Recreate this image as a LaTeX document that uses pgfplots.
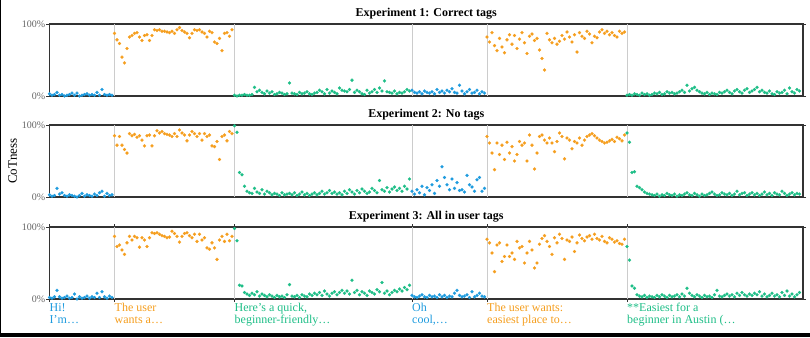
\documentclass[border=0pt]{standalone}
\usepackage{pgfplots}
\pgfplotsset{compat=1.18}
\usepackage{fontspec}
\setmainfont{Liberation Serif}
\definecolor{cblue}{RGB}{30,155,222}
\definecolor{corange}{RGB}{245,158,30}
\definecolor{cgreen}{RGB}{30,190,135}
\pgfplotsset{
  seg/.style={only marks, mark=*, mark size=1.6pt, color=#1, mark options={draw=#1, fill=#1, line width=0.1pt}},
  panel/.style={
    width=753.5pt, height=72pt, scale only axis,
    xmin=0, xmax=301.4, ymin=0, ymax=100,
    clip=false,
    ytick={0,100}, yticklabels={0\%,100\%},
    xtick=\empty,
    axis line style={draw=black!80, line width=1.1pt},
    tick style={draw=black!80, line width=0.8pt},
    major tick length=3pt, tick align=outside,
    yticklabel style={font=\fontsize{10}{10}\selectfont, text=black!60, inner xsep=1pt},
    every axis title/.style={at={(0.5,1)}, anchor=south, yshift=1.5pt, font=\bfseries\fontsize{12}{12}\selectfont},
  },
}
\newcommand{\seps}{%
  \draw[black!20, line width=0.7pt] (axis cs:26,0) -- (axis cs:26,100);
  \draw[black!20, line width=0.7pt] (axis cs:74,0) -- (axis cs:74,100);
  \draw[black!20, line width=0.7pt] (axis cs:145,0) -- (axis cs:145,100);
  \draw[black!20, line width=0.7pt] (axis cs:175,0) -- (axis cs:175,100);
  \draw[black!20, line width=0.7pt] (axis cs:231,0) -- (axis cs:231,100);
}
\newcommand{\lab}[3]{\textcolor{#1}{\begin{tabular}{@{}l@{}}#2\\#3\end{tabular}}}
\begin{document}
\begin{tikzpicture}
\path[use as bounding box] (0,0) rectangle (810pt,-337pt);
% ---------------- Panel 1
\begin{axis}[panel, at={(49.5pt,-24pt)}, anchor=north west, title={Experiment 1: Correct tags}]
\seps
\addplot[seg=cblue] table[x expr=\coordindex, y index=0, header=false, row sep=\\]{3\\1\\2\\5\\1\\2\\0\\1\\2\\4\\1\\4\\0\\1\\2\\3\\1\\2\\1\\5\\1\\9\\2\\1\\2\\1\\};
\addplot[seg=corange] table[x expr=\coordindex+26, y index=0, header=false, row sep=\\]{87\\78\\73\\54\\46\\66\\82\\84\\87\\88\\82\\77\\84\\85\\77\\84\\92\\91\\92\\90\\90\\89\\88\\90\\87\\92\\95\\91\\89\\87\\81\\87\\92\\91\\92\\89\\87\\82\\90\\88\\75\\73\\80\\63\\87\\88\\83\\92\\};
\addplot[seg=cgreen] table[x expr=\coordindex+74, y index=0, header=false, row sep=\\]{1\\0\\1\\1\\2\\1\\1\\2\\12\\6\\8\\5\\3\\7\\4\\6\\2\\3\\5\\4\\2\\3\\18\\4\\3\\2\\5\\3\\4\\6\\3\\2\\4\\5\\8\\6\\3\\9\\4\\7\\5\\3\\11\\8\\7\\6\\9\\22\\5\\8\\6\\3\\2\\8\\4\\6\\9\\5\\11\\7\\21\\6\\5\\4\\7\\3\\5\\4\\6\\9\\7\\};
\addplot[seg=cblue] table[x expr=\coordindex+145, y index=0, header=false, row sep=\\]{8\\5\\4\\6\\3\\7\\5\\4\\6\\3\\9\\5\\7\\4\\8\\6\\10\\5\\4\\15\\7\\3\\6\\9\\4\\5\\8\\3\\6\\4\\};
\addplot[seg=corange] table[x expr=\coordindex+175, y index=0, header=false, row sep=\\]{82\\75\\88\\70\\63\\80\\68\\60\\78\\85\\72\\84\\66\\79\\88\\74\\59\\83\\86\\77\\80\\64\\52\\36\\87\\78\\74\\80\\72\\76\\84\\79\\89\\82\\75\\85\\61\\88\\83\\80\\90\\86\\74\\83\\81\\89\\92\\87\\90\\85\\88\\84\\82\\90\\87\\89\\};
\addplot[seg=cgreen] table[x expr=\coordindex+231, y index=0, header=false, row sep=\\]{1\\2\\1\\3\\2\\1\\4\\2\\3\\1\\2\\4\\3\\5\\2\\3\\6\\4\\5\\3\\4\\6\\8\\5\\15\\7\\10\\12\\8\\6\\4\\3\\5\\2\\4\\3\\2\\5\\4\\6\\8\\5\\3\\7\\9\\6\\4\\8\\10\\5\\7\\9\\12\\6\\8\\5\\4\\7\\3\\2\\6\\4\\5\\8\\3\\11\\6\\4\\9\\7\\};
\end{axis}
% ---------------- Panel 2
\begin{axis}[panel, at={(49.5pt,-125pt)}, anchor=north west, title={Experiment 2: No tags},
  ylabel={CoTness}, ylabel style={at={(axis description cs:-0.0488,0.5)}, anchor=center, font=\fontsize{13}{13}\selectfont}]
\seps
\addplot[seg=cblue] table[x expr=\coordindex, y index=0, header=false, row sep=\\]{3\\1\\2\\12\\4\\6\\2\\1\\3\\2\\1\\0\\2\\5\\1\\3\\2\\1\\4\\2\\6\\8\\1\\5\\2\\3\\};
\addplot[seg=corange] table[x expr=\coordindex+26, y index=0, header=false, row sep=\\]{85\\72\\84\\72\\66\\61\\88\\85\\87\\83\\85\\79\\71\\85\\86\\71\\85\\92\\89\\91\\88\\87\\86\\84\\88\\84\\93\\89\\86\\78\\86\\91\\88\\84\\88\\79\\88\\84\\86\\71\\70\\77\\52\\84\\86\\78\\91\\88\\};
\addplot[seg=cgreen] table[x expr=\coordindex+74, y index=0, header=false, row sep=\\]{99\\90\\34\\31\\15\\8\\6\\5\\12\\7\\5\\10\\4\\8\\6\\3\\5\\4\\2\\6\\3\\4\\5\\3\\6\\2\\4\\7\\3\\5\\2\\4\\6\\3\\5\\8\\4\\6\\9\\5\\7\\4\\6\\3\\8\\5\\10\\7\\4\\9\\6\\11\\8\\5\\7\\12\\9\\6\\23\\10\\8\\13\\7\\11\\14\\9\\12\\8\\15\\11\\25\\};
\addplot[seg=cblue] table[x expr=\coordindex+145, y index=0, header=false, row sep=\\]{8\\4\\10\\6\\15\\3\\13\\9\\17\\5\\23\\15\\42\\27\\17\\10\\25\\12\\20\\9\\10\\7\\30\\17\\14\\8\\24\\27\\8\\12\\};
\addplot[seg=corange] table[x expr=\coordindex+175, y index=0, header=false, row sep=\\]{84\\75\\61\\38\\75\\59\\72\\52\\76\\61\\70\\50\\59\\77\\72\\75\\50\\86\\72\\39\\61\\84\\86\\79\\75\\82\\75\\63\\77\\89\\84\\53\\82\\79\\67\\77\\75\\82\\72\\79\\84\\86\\88\\85\\82\\79\\77\\75\\76\\78\\80\\77\\83\\81\\78\\86\\};
\addplot[seg=cgreen] table[x expr=\coordindex+231, y index=0, header=false, row sep=\\]{89\\76\\34\\35\\15\\13\\10\\7\\5\\4\\3\\2\\4\\1\\3\\2\\5\\3\\2\\4\\1\\3\\2\\4\\6\\3\\2\\5\\3\\1\\4\\2\\3\\5\\7\\4\\2\\3\\6\\4\\3\\5\\2\\4\\8\\3\\5\\6\\2\\4\\6\\3\\5\\2\\4\\7\\3\\5\\2\\6\\4\\3\\8\\5\\2\\4\\6\\3\\5\\4\\};
\end{axis}
% ---------------- Panel 3
\begin{axis}[panel, at={(49.5pt,-227pt)}, anchor=north west, title={Experiment 3: All in user tags},
  xtick={0,26,74,145,175,231},
  xticklabels={
    {\lab{cblue}{Hi!}{I'm…}},
    {\lab{corange}{The user}{wants a…}},
    {\lab{cgreen}{Here's a quick,}{beginner-friendly…}},
    {\lab{cblue}{Oh}{cool,…}},
    {\lab{corange}{The user wants:}{easiest place to…}},
    {\lab{cgreen}{**Easiest for a}{beginner in Austin (…}}},
  xticklabel style={anchor=north west, inner xsep=0pt, inner ysep=1pt, font=\fontsize{12}{12}\selectfont}]
\seps
\addplot[seg=cblue] table[x expr=\coordindex, y index=0, header=false, row sep=\\]{2\\1\\3\\12\\3\\1\\2\\4\\1\\2\\7\\0\\3\\1\\2\\4\\1\\3\\2\\8\\2\\10\\3\\1\\4\\2\\};
\addplot[seg=corange] table[x expr=\coordindex+26, y index=0, header=false, row sep=\\]{87\\73\\75\\68\\62\\78\\87\\82\\87\\85\\72\\85\\82\\73\\85\\92\\91\\92\\90\\88\\87\\85\\86\\94\\91\\87\\79\\87\\91\\92\\88\\85\\90\\80\\90\\82\\85\\71\\69\\78\\71\\55\\82\\87\\80\\90\\81\\87\\};
\addplot[seg=cgreen] table[x expr=\coordindex+74, y index=0, header=false, row sep=\\]{98\\81\\19\\18\\9\\7\\5\\8\\6\\10\\4\\7\\5\\3\\6\\4\\2\\5\\3\\4\\2\\6\\20\\4\\3\\5\\2\\6\\4\\3\\7\\5\\8\\6\\9\\5\\11\\7\\4\\8\\10\\6\\9\\12\\8\\11\\7\\26\\9\\12\\6\\10\\8\\5\\11\\9\\7\\13\\10\\23\\8\\11\\6\\9\\12\\10\\14\\11\\16\\13\\19\\};
\addplot[seg=cblue] table[x expr=\coordindex+145, y index=0, header=false, row sep=\\]{5\\3\\2\\4\\6\\3\\2\\5\\3\\4\\2\\6\\3\\5\\2\\4\\3\\8\\12\\5\\3\\4\\6\\2\\10\\3\\5\\8\\4\\3\\};
\addplot[seg=corange] table[x expr=\coordindex+175, y index=0, header=false, row sep=\\]{83\\78\\64\\38\\75\\78\\52\\59\\75\\59\\64\\55\\80\\71\\73\\50\\64\\80\\68\\43\\50\\76\\84\\88\\80\\73\\62\\85\\78\\90\\84\\55\\82\\80\\86\\66\\78\\89\\84\\81\\86\\88\\83\\90\\84\\82\\87\\80\\78\\85\\83\\79\\81\\77\\76\\83\\};
\addplot[seg=cgreen] table[x expr=\coordindex+231, y index=0, header=false, row sep=\\]{73\\54\\18\\15\\6\\4\\3\\5\\2\\4\\3\\2\\5\\3\\6\\4\\2\\5\\3\\4\\6\\3\\7\\4\\15\\8\\5\\3\\6\\4\\2\\5\\3\\4\\2\\6\\12\\4\\3\\5\\7\\4\\6\\3\\8\\5\\9\\6\\4\\7\\5\\8\\6\\10\\4\\7\\3\\5\\8\\4\\6\\3\\9\\5\\11\\4\\7\\3\\6\\9\\};
\end{axis}
\fill[black] (0,-333pt) rectangle (810pt,-337pt);
\draw[black, line width=1.2pt] (0.6pt,0) -- (0.6pt,-337pt);
\end{tikzpicture}
\end{document}
